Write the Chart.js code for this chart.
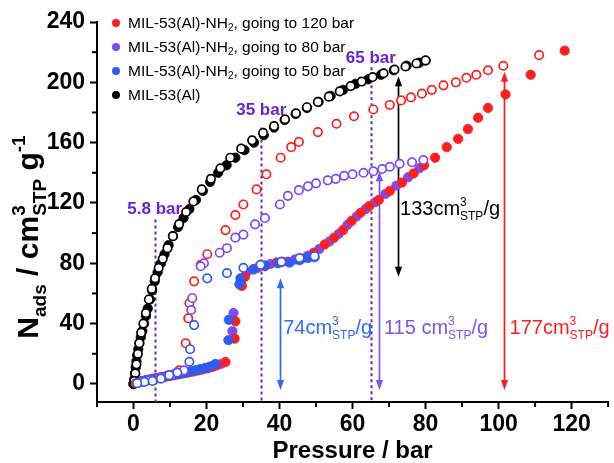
<!DOCTYPE html>
<html>
<head>
<meta charset="utf-8">
<title>CO2 isotherms</title>
<script src="https://cdn.jsdelivr.net/npm/chart.js@4.4.1/dist/chart.umd.min.js"></script>
<style>
  html, body { margin: 0; padding: 0; background: #fff; }
  canvas { display: block; }
</style>
</head>
<body>
<canvas id="isotherm" width="614" height="463"></canvas>
<script>
const FONT = "'Liberation Sans', Arial, sans-serif";

// axis ticks
const xMajor = [0, 20, 40, 60, 80, 100, 120];
const xMinor = [-10, 10, 30, 50, 70, 90, 110, 130];
const yMajor = [0, 40, 80, 120, 160, 200, 240];
const yMinor = [20, 60, 100, 140, 180, 220];

// MIL-53(Al): adsorption (filled) and desorption (open)
const mil53AdsP = [0, 0.2, 0.4, 0.6, 0.8, 1.0, 1.3, 1.6, 2.0, 2.4, 2.9, 3.4, 3.9, 4.5, 5.1, 5.8, 6.6, 7.5, 8.5, 9.6, 10.8, 12.2, 13.7, 15.3, 17.1, 19.0, 21.0, 23.2, 25.5, 27.9, 30.4, 33.0, 35.7, 38.5, 41.4, 44.4, 47.5, 50.7, 54.0, 57.4, 60.8, 64.3, 67.8, 71.3, 74.8, 78.3, 80];
const mil53AdsN = [0, 3, 7, 11, 15, 19, 23, 27, 31, 35, 40, 45, 50, 56, 62, 68, 74, 80, 86, 92, 98, 104, 110, 116, 122, 128, 134, 140, 145, 150, 155, 160, 165, 170, 175, 179, 183, 187, 191, 195, 199, 202, 205, 208, 211, 213, 214.5];
const mil53DesP = [80, 77.5, 74.5, 71.5, 68.5, 65.5, 62.5, 59.5, 56.5, 53.5, 50.5, 47.5, 44.5, 41.5, 38.5, 35.5, 32.5, 29.5, 26.5, 23.8, 21.2, 18.7, 16.4, 14.4, 12.5, 10.8, 9.3, 8.0, 6.9, 5.9, 5.0, 4.2, 3.4, 2.7, 2.1, 1.6, 1.2, 0.8, 0.5, 0.2];
const mil53DesN = [214.5, 212.5, 210.5, 208.5, 206, 203.5, 200.5, 197.5, 194, 190.5, 187, 183.5, 179.5, 175.5, 171, 166.5, 161.5, 156, 150, 143, 136, 129, 121, 114, 106, 98, 90, 83, 77, 70, 63, 56, 47, 40, 34, 27, 20, 13, 7, 2];

// MIL-53(Al)-NH2 up to 120 bar
const nh2To120AdsP = [0, 0.4, 0.9, 1.5, 2.2, 3.0, 3.9, 4.9, 6.0, 7.2, 8.5, 9.8, 11.1, 12.4, 13.7, 15.0, 16.3, 17.6, 18.9, 20.2, 21.5, 22.8, 25.2, 27.7, 27.9, 29.7, 30.5, 33.0, 36.0, 39.2, 42.3, 46.0, 49.4, 52.4, 55.0, 57.4, 59.7, 62.2, 64.6, 67.2, 70.2, 73.5, 76.7, 79.6, 82.6, 85.8, 88.9, 91.6, 94.4, 97.1, 101.9, 108.8, 118.1];
const nh2To120AdsN = [0, 0.3, 0.8, 1.2, 1.6, 2.0, 2.5, 3.0, 3.5, 4.0, 4.6, 5.2, 5.8, 6.4, 7.0, 7.6, 8.2, 8.9, 9.6, 10.3, 11.2, 12.3, 14.5, 30, 41.5, 65, 71, 76, 78, 80.5, 81, 83, 87, 92.5, 97, 102, 108, 113.5, 118, 122, 128, 133.5, 139.5, 145, 150, 157, 162.5, 169, 176.5, 183, 192, 205, 221];
const nh2To120DesP = [111.1, 101.3, 97.1, 93.9, 91.2, 88.3, 84.9, 81.7, 79.0, 76.0, 73.3, 70.2, 65.7, 60.4, 55.6, 50.5, 45.3, 43.2, 40.3, 36.4, 33.7, 30.1, 27.9, 25.2, 20.2, 18.4, 16.6, 15.3, 15.0, 14.3, 12.5, 11.6, 9.4, 7.0, 4.6, 2.4, 0.6];
const nh2To120DesN = [218, 211, 208, 205, 203, 200, 198, 195, 192.5, 190, 188, 185, 182, 177.5, 172.5, 167, 160.5, 157, 150, 139, 129, 119, 112, 102, 86, 79, 68, 53.5, 43.5, 27, 9, 7, 5.5, 4, 2.6, 1.4, 0.4];

// MIL-53(Al)-NH2 up to 80 bar
const nh2To80AdsP = [0, 0.6, 1.3, 2.1, 3.0, 4.0, 5.1, 6.3, 7.6, 8.9, 10.2, 11.5, 12.8, 14.1, 15.4, 16.7, 18.0, 19.3, 20.6, 21.9, 24.0, 27.1, 27.4, 29.4, 31.0, 34.0, 37.5, 40.8, 44.2, 47.7, 50.9, 53.7, 56.2, 58.6, 61.1, 63.6, 66.2, 69.0, 72.0, 75.2, 78.3];
const nh2To80AdsN = [0, 0.6, 1.1, 1.5, 2.0, 2.6, 3.2, 3.8, 4.4, 5.0, 5.6, 6.2, 6.8, 7.4, 8.0, 8.7, 9.4, 10.1, 10.8, 11.7, 13.3, 35, 47, 68, 74, 77, 79.5, 81, 82.5, 85, 89.5, 94.5, 99.5, 105.5, 111, 116, 120.5, 126, 131.5, 137, 143];
const nh2To80DesP = [79.4, 76.3, 72.9, 70.2, 68.1, 65.7, 63.0, 60.0, 57.7, 55.4, 53.2, 50.0, 47.8, 45.3, 42.3, 40.1, 36.0, 33.3, 30.1, 27.9, 25.6, 23.6, 19.3, 18.4, 16.1, 15.8, 13.8, 10.5, 7.5, 4.5, 1.8];
const nh2To80DesN = [148.5, 147, 146, 144, 142.5, 141, 140, 139, 138, 136, 135, 133, 131, 128.5, 124.7, 119, 110, 105.8, 99, 97, 90, 87, 80, 78, 57, 49, 9, 6, 4, 2.5, 1];

// MIL-53(Al)-NH2 up to 50 bar
const nh2To50AdsP = [0, 0.3, 0.7, 1.2, 1.8, 2.6, 3.5, 4.5, 5.6, 6.8, 8.0, 9.3, 10.6, 11.9, 13.2, 14.5, 15.8, 17.1, 18.4, 19.7, 21.0, 22.4, 26.0, 26.1, 29.0, 29.3, 32.8, 36.0, 39.6, 42.8, 45.5, 47.8, 49.6];
const nh2To50AdsN = [0, 0.4, 0.8, 1.2, 1.6, 2.0, 2.5, 3.0, 3.5, 4.0, 4.6, 5.2, 5.8, 6.4, 7.0, 7.7, 8.4, 9.1, 9.8, 10.6, 11.5, 13.2, 29, 42.5, 66, 70, 76, 78.5, 80, 80.5, 82, 83.5, 84];
const nh2To50DesP = [49.6, 45.5, 40.5, 34.8, 30.1, 25.6, 20.2, 16.6, 15.5, 15.3, 12.0, 9.8, 7.5, 5.2, 3.0, 1.0];
const nh2To50DesN = [84.7, 83.5, 81, 79, 77, 73.5, 70, 39, 23, 14.7, 7.5, 5.8, 3.5, 2, 1.3, 0.5];

const seriesNames = [
  ['MIL-53(Al)-NH', {sub: '2'}, ', going to 120 bar'],
  ['MIL-53(Al)-NH', {sub: '2'}, ', going to 80 bar'],
  ['MIL-53(Al)-NH', {sub: '2'}, ', going to 50 bar'],
  ['MIL-53(Al)']
];

// gate-opening pressures: [pressure, top of the dotted line, label baseline]
const gatePressures = [5.8, 35, 65];
const gateLineTops = [109, 170, 210];
const gateLabelN = [112.6, 178, 212.6];
const gateLabels = ['5.8 bar', '35 bar', '65 bar'];

// uptake arrows: pressure, lower and upper end (cm3/g)
const arrowP = [72.4, 40, 67.2, 101.5];
const arrowLow = [71, -4, -4, -4];
const arrowHigh = [204, 70, 141, 207];
const arrowText = ['133cm', '74cm', '115 cm', '177cm'];
const arrowTextP = [73, 41, 68.6, 103];
const arrowTextN = [112, 33, 33, 33];

const RED = '#ff1d1d';
const VIOLET = '#7a4cf7';
const BLUE = '#2f5cf2';
const GATE = '#6a22d6';
const arrowColors = ['#000000', '#2f6bf0', '#7a55f7', '#ff1d1d'];

function pts(px, py) {
  return px.map((p, i) => ({x: p, y: py[i]}));
}

function filled(data, color, order) {
  return {
    data, order, showLine: false,
    pointRadius: 4.7, pointBorderWidth: 0.8,
    pointBackgroundColor: color, pointBorderColor: color
  };
}

function open(data, color, order) {
  return {
    data, order, showLine: false,
    pointRadius: 4.2, pointBorderWidth: 1.7,
    pointBackgroundColor: '#ffffff', pointBorderColor: color
  };
}

// text with sub/superscripts; {sup, sub} together are stacked
function richText(ctx, parts, x, y, size, weight, draw) {
  const small = Math.round(size * 0.62);
  let cx = x;
  parts.forEach(part => {
    if (typeof part === 'string') {
      ctx.font = `${weight} ${size}px ${FONT}`;
      if (draw) ctx.fillText(part, cx, y);
      cx += ctx.measureText(part).width;
    } else {
      ctx.font = `${weight} ${small}px ${FONT}`;
      let w = 0;
      if (part.sup) {
        if (draw) ctx.fillText(part.sup, cx, y - size * 0.45);
        w = Math.max(w, ctx.measureText(part.sup).width);
      }
      if (part.sub) {
        if (draw) ctx.fillText(part.sub, cx, y + size * 0.25);
        w = Math.max(w, ctx.measureText(part.sub).width);
      }
      cx += w;
    }
  });
  return cx - x;
}

function drawArrow(ctx, px, top, bottom, color) {
  const head = 10, half = 3.6;
  ctx.strokeStyle = color;
  ctx.fillStyle = color;
  ctx.lineWidth = 1.7;
  ctx.beginPath();
  ctx.moveTo(px, top + head - 2);
  ctx.lineTo(px, bottom - head + 2);
  ctx.stroke();
  ctx.beginPath();
  ctx.moveTo(px, top);
  ctx.lineTo(px - half, top + head);
  ctx.lineTo(px + half, top + head);
  ctx.closePath();
  ctx.fill();
  ctx.beginPath();
  ctx.moveTo(px, bottom);
  ctx.lineTo(px - half, bottom - head);
  ctx.lineTo(px + half, bottom - head);
  ctx.closePath();
  ctx.fill();
}

const annotations = {
  id: 'annotations',
  beforeDatasetsDraw(chart) {
    const {ctx, scales: {x, y}} = chart;
    ctx.save();

    // dotted gate-opening markers
    ctx.setLineDash([3, 3]);
    ctx.lineWidth = 2;
    ctx.strokeStyle = GATE;
    gatePressures.forEach((p, i) => {
      const px = Math.round(x.getPixelForValue(p)) + 0.5;
      ctx.beginPath();
      ctx.moveTo(px, y.getPixelForValue(gateLineTops[i]));
      ctx.lineTo(px, y.bottom);
      ctx.stroke();
    });
    ctx.setLineDash([]);
    ctx.fillStyle = GATE;
    ctx.font = `bold 17px ${FONT}`;
    ctx.textAlign = 'center';
    ctx.textBaseline = 'alphabetic';
    gatePressures.forEach((p, i) => {
      ctx.fillText(gateLabels[i], x.getPixelForValue(p), y.getPixelForValue(gateLabelN[i]));
    });

    // uptake arrows and their labels
    ctx.textAlign = 'left';
    arrowP.forEach((p, i) => {
      const px = Math.round(x.getPixelForValue(p)) + 0.5;
      drawArrow(ctx, px, y.getPixelForValue(arrowHigh[i]), y.getPixelForValue(arrowLow[i]), arrowColors[i]);
      ctx.fillStyle = arrowColors[i];
      richText(ctx, [arrowText[i], {sup: '3', sub: 'STP'}, '/g'],
        x.getPixelForValue(arrowTextP[i]), y.getPixelForValue(arrowTextN[i]), 20, 'normal', true);
    });
    ctx.restore();
  },
  afterDraw(chart) {
    const {ctx, chartArea: area, scales: {x, y}} = chart;
    ctx.save();

    // minor ticks
    ctx.strokeStyle = '#000';
    ctx.lineWidth = 2;
    xMinor.forEach(v => {
      const px = x.getPixelForValue(v);
      ctx.beginPath();
      ctx.moveTo(px, area.bottom);
      ctx.lineTo(px, area.bottom + 5);
      ctx.stroke();
    });
    yMinor.forEach(v => {
      const py = y.getPixelForValue(v);
      ctx.beginPath();
      ctx.moveTo(area.left, py);
      ctx.lineTo(area.left - 5, py);
      ctx.stroke();
    });

    // legend
    const legendColors = [RED, VIOLET, BLUE, '#000'];
    ctx.textBaseline = 'middle';
    ctx.textAlign = 'left';
    seriesNames.forEach((name, i) => {
      const cy = area.top + 1 + i * 24;
      ctx.fillStyle = legendColors[i];
      ctx.beginPath();
      ctx.arc(area.left + 19, cy, 4, 0, Math.PI * 2);
      ctx.fill();
      ctx.fillStyle = '#000';
      richText(ctx, name, area.left + 31, cy + 1, 15.5, 'normal', true);
    });

    // y axis title
    ctx.textBaseline = 'alphabetic';
    const title = ['N', {sub: 'ads'}, ' / cm', {sup: '3', sub: 'STP'}, ' g', {sup: '-1'}];
    const w = richText(ctx, title, 0, 0, 30, 'bold', false);
    ctx.translate(38, 237);
    ctx.rotate(-Math.PI / 2);
    ctx.fillStyle = '#000';
    richText(ctx, title, -w / 2, 0, 30, 'bold', true);
    ctx.restore();
  }
};

const tickFont = {family: FONT, size: 23, weight: 'bold'};

new Chart(document.getElementById('isotherm'), {
  type: 'scatter',
  data: {
    datasets: [
      open(pts(nh2To50DesP, nh2To50DesN), BLUE, 0),
      open(pts(nh2To80DesP, nh2To80DesN), VIOLET, 1),
      open(pts(nh2To120DesP, nh2To120DesN), RED, 2),
      open(pts(mil53DesP, mil53DesN), '#000', 3),
      filled(pts(mil53AdsP, mil53AdsN), '#000', 4),
      filled(pts(nh2To50AdsP, nh2To50AdsN), BLUE, 5),
      filled(pts(nh2To120AdsP, nh2To120AdsN), RED, 6),
      filled(pts(nh2To80AdsP, nh2To80AdsN), VIOLET, 7)
    ]
  },
  options: {
    responsive: false,
    animation: false,
    events: [],
    devicePixelRatio: 1,
    layout: {padding: {top: 22, right: 2, left: 0, bottom: 0}},
    plugins: {legend: {display: false}, tooltip: {enabled: false}},
    scales: {
      x: {
        type: 'linear',
        min: -10,
        max: 130,
        afterBuildTicks: s => { s.ticks = xMajor.map(v => ({value: v})); },
        afterFit: s => { s.height = 61; },
        ticks: {font: tickFont, color: '#000', padding: 2, maxRotation: 0, autoSkip: false},
        grid: {drawOnChartArea: false, drawTicks: true, tickLength: 7, tickWidth: 2, tickColor: '#000'},
        border: {display: true, color: '#000', width: 2},
        title: {
          display: true,
          text: 'Pressure / bar',
          color: '#000',
          font: {family: FONT, size: 24, weight: 'bold', lineHeight: 1},
          padding: 0
        }
      },
      y: {
        type: 'linear',
        min: -12,
        max: 240,
        afterBuildTicks: s => { s.ticks = yMajor.map(v => ({value: v})); },
        afterFit: s => { s.width = 97; },
        ticks: {font: tickFont, color: '#000', padding: 5},
        grid: {drawOnChartArea: false, drawTicks: true, tickLength: 7, tickWidth: 2, tickColor: '#000'},
        border: {display: true, color: '#000', width: 2}
      }
    }
  },
  plugins: [annotations]
});
</script>
</body>
</html>
